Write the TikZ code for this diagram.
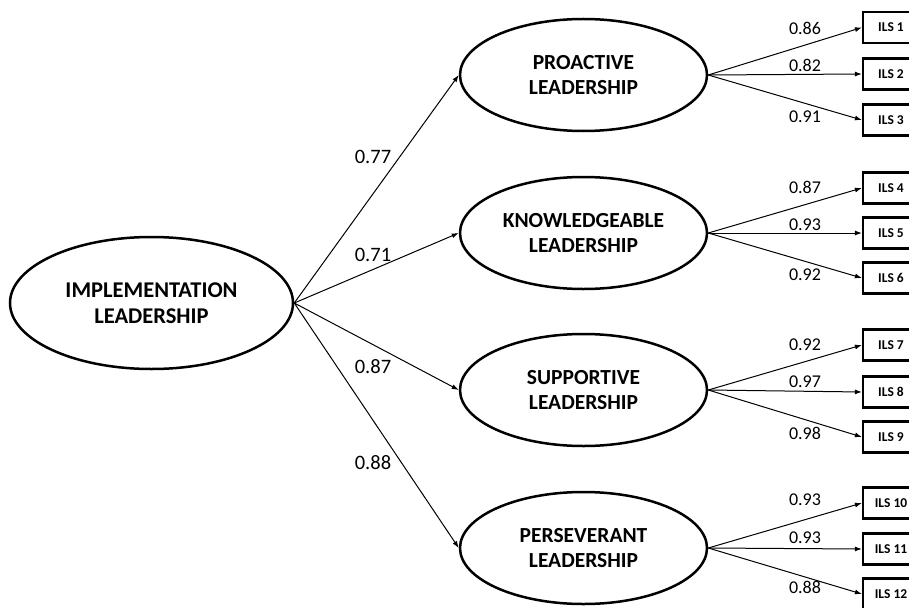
\documentclass[tikz,border=0pt]{standalone}
\usepackage{fontspec}
\setmainfont{Carlito}
\usetikzlibrary{shapes.geometric,arrows.meta}
\begin{document}
\begin{tikzpicture}[x=1pt,y=-1pt,
 factor/.style={ellipse,draw,line width=2.5pt,minimum width=247pt,minimum height=112pt,inner sep=0pt,align=center,font=\fontsize{21.5}{25.5}\selectfont\bfseries},
 item/.style={rectangle,draw,line width=2.2pt,minimum width=56pt,minimum height=31pt,inner sep=0pt,font=\fontsize{13.5}{15}\selectfont\bfseries},
 conn/.style={line width=1pt,-{Latex[length=7pt,width=5pt]}},
 wl/.style={font=\fontsize{20.5}{24}\selectfont,inner sep=0pt},
 wr/.style={font=\fontsize{18}{21}\selectfont,inner sep=0pt}]
\useasboundingbox (0,0) rectangle (909,607);
\fill[white] (0,0) rectangle (909,607);
\clip (0,0) rectangle (909,607);

\node[factor, minimum width=283pt, minimum height=132pt, font=\fontsize{22.5}{26.5}\selectfont\bfseries] (impl) at (151.5,303) {IMPLEMENTATION\\LEADERSHIP};

\node[factor] (pro) at (583.5,75) {PROACTIVE\\LEADERSHIP};
\node[factor] (kno) at (583.5,233) {KNOWLEDGEABLE\\LEADERSHIP};
\node[factor] (sup) at (583.5,390) {SUPPORTIVE\\LEADERSHIP};
\node[factor] (per) at (583.5,548) {PERSEVERANT\\LEADERSHIP};

\node[item] (i1) at (891,27.5) {ILS 1};
\node[item] (i2) at (891,74) {ILS 2};
\node[item] (i3) at (891,120) {ILS 3};
\node[item] (i4) at (891,188) {ILS 4};
\node[item] (i5) at (891,233) {ILS 5};
\node[item] (i6) at (891,278) {ILS 6};
\node[item] (i7) at (891,345) {ILS 7};
\node[item] (i8) at (891,392) {ILS 8};
\node[item] (i9) at (891,437) {ILS 9};
\node[item] (i10) at (891,503) {ILS 10};
\node[item] (i11) at (891,549) {ILS 11};
\node[item] (i12) at (891,594) {ILS 12};

\draw[conn] (impl.east) -- (pro.west);
\draw[conn] (impl.east) -- (kno.west);
\draw[conn] (impl.east) -- (sup.west);
\draw[conn] (impl.east) -- (per.west);

\draw[conn] (pro.east) -- (i1.west);
\draw[conn] (pro.east) -- (i2.west);
\draw[conn] (pro.east) -- (i3.west);
\draw[conn] (kno.east) -- (i4.west);
\draw[conn] (kno.east) -- (i5.west);
\draw[conn] (kno.east) -- (i6.west);
\draw[conn] (sup.east) -- (i7.west);
\draw[conn] (sup.east) -- (i8.west);
\draw[conn] (sup.east) -- (i9.west);
\draw[conn] (per.east) -- (i10.west);
\draw[conn] (per.east) -- (i11.west);
\draw[conn] (per.east) -- (i12.west);

\node[wl] (l1) at (373,157) {0.77};
\node[wl] (l2) at (373,255) {0.71};
\node[wl] (l3) at (373,367) {0.87};
\node[wl] (l4) at (373,463) {0.88};

\node[wr] (r1) at (805,28) {0.86};
\node[wr] (r2) at (805,65) {0.82};
\node[wr] (r3) at (805,117) {0.91};
\node[wr] (r4) at (805,187) {0.87};
\node[wr] (r5) at (805,225) {0.93};
\node[wr] (r6) at (805,275) {0.92};
\node[wr] (r7) at (805,345) {0.92};
\node[wr] (r8) at (805,382) {0.97};
\node[wr] (r9) at (805,433) {0.98};
\node[wr] (r10) at (805,500) {0.93};
\node[wr] (r11) at (805,538) {0.93};
\node[wr] (r12) at (805,587) {0.88};
\end{tikzpicture}
\end{document}
